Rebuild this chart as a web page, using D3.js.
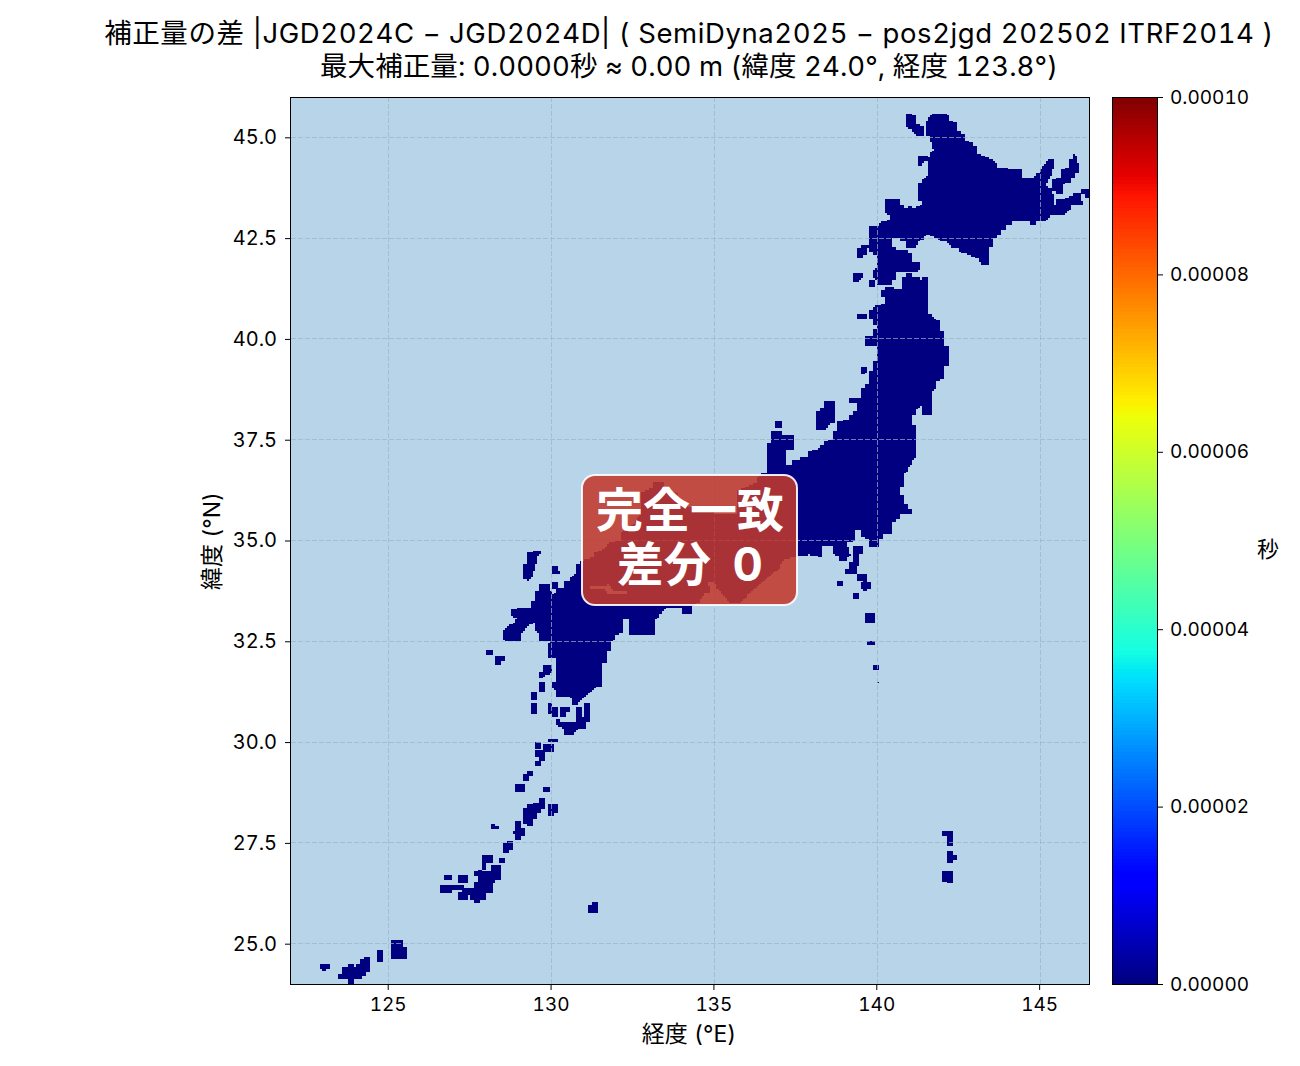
<!DOCTYPE html>
<html lang="ja">
<head>
<meta charset="utf-8">
<script src="https://cdnjs.cloudflare.com/ajax/libs/d3/7.9.0/d3.min.js"></script>
<style>
  html, body { margin: 0; padding: 0; background: #fff; }
  svg { display: block; }
  text { font-family: Inter, "Noto Sans CJK JP", "Noto Sans", sans-serif; font-feature-settings: "tnum"; fill: #000; }
</style>
</head>
<body>
<svg id="chart" width="1300" height="1066"></svg>
<script>
// Chart wording
const titleLines = [
  "補正量の差 |JGD2024C − JGD2024D| ( SemiDyna2025 − pos2jgd 202502 ITRF2014 )",
  "最大補正量: 0.0000秒 ≈ 0.00 m (緯度 24.0°, 経度 123.8°)"
];
const xLabel = "経度 (°E)";
const yLabel = "緯度 (°N)";
const colorLabel = "秒";
const badgeLines = ["完全一致", "差分 0"];

// Axis ranges and ticks
const lonExtent = [122, 146.5];
const latExtent = [24, 46];
const lonTicks = [125, 130, 135, 140, 145];
const latTicks = [25, 27.5, 30, 32.5, 35, 37.5, 40, 42.5, 45];
const diffExtent = [0, 0.0001];
const diffTicks = [0, 0.00002, 0.00004, 0.00006, 0.00008, 0.0001];

// The correction difference is zero at every land mesh cell
const landDifference = 0;
const meshLon = 1 / 16;
const meshLat = 1 / 24;

// Land outlines as [lon, lat] rings
const hokkaido = [[141.49,45.35],[141.61,45.51],[141.73,45.6],[142.04,45.6],[142.16,45.53],[142.16,45.43],[142.3,45.43],[142.3,45.36],[142.43,45.36],[142.43,45.18],[142.57,45.18],[142.57,45.1],[142.69,45.1],[142.69,44.93],[142.81,44.93],[142.81,44.87],[142.94,44.87],[142.94,44.79],[143.06,44.79],[143.06,44.6],[143.18,44.6],[143.18,44.54],[143.3,44.54],[143.3,44.48],[143.42,44.48],[143.42,44.44],[143.55,44.44],[143.67,44.36],[143.67,44.27],[143.97,44.25],[144.02,44.19],[144.44,44.19],[144.44,44.01],[144.8,44.01],[144.89,44.11],[144.99,44.15],[145.04,44.23],[145.25,44.44],[145.42,44.44],[145.42,44.23],[145.32,44.01],[145.19,43.86],[145.17,43.78],[145.3,43.76],[145.4,43.69],[145.42,43.36],[145.5,43.35],[145.52,43.45],[145.76,43.45],[145.76,43.51],[146.01,43.53],[146.01,43.61],[146.24,43.61],[146.3,43.32],[145.93,43.32],[145.93,43.24],[145.81,43.16],[145.69,43.07],[145.3,43.07],[145.3,42.99],[145.17,42.95],[145.17,42.91],[144.89,42.91],[144.85,42.85],[144.68,42.85],[144.66,42.91],[144.13,42.91],[144.13,42.85],[143.95,42.82],[143.95,42.72],[143.8,42.7],[143.8,42.58],[143.66,42.58],[143.66,42.49],[143.56,42.49],[143.56,42.31],[143.42,42.31],[143.42,41.82],[143.25,41.82],[143.13,41.92],[143.11,41.98],[142.94,42.04],[142.72,42.12],[142.48,42.16],[142.48,42.23],[142.23,42.23],[142.23,42.32],[142.1,42.4],[141.97,42.41],[141.73,42.55],[141.53,42.58],[141.41,42.47],[141.25,42.41],[141.18,42.23],[140.88,42.23],[140.88,42.41],[140.71,42.41],[140.71,42.49],[140.43,42.49],[140.41,42.29],[140.54,42.29],[140.54,42.19],[140.94,42.19],[140.94,42.11],[141.06,42.11],[141.06,41.93],[141.3,41.93],[141.3,41.74],[141.18,41.66],[140.54,41.66],[140.54,41.46],[140.42,41.44],[140.42,41.34],[139.99,41.34],[139.99,41.46],[139.87,41.5],[139.87,41.67],[140,41.75],[140,42.07],[139.87,42.08],[139.87,42.17],[139.75,42.17],[139.75,42.77],[140.06,42.8],[140.11,42.89],[140.23,42.91],[140.35,42.95],[140.35,43.07],[140.23,43.16],[140.23,43.45],[140.66,43.45],[140.66,43.35],[140.81,43.35],[140.81,43.26],[140.94,43.26],[140.94,43.31],[141.06,43.31],[141.06,43.26],[141.24,43.28],[141.37,43.35],[141.37,43.4],[141.24,43.4],[141.24,43.86],[141.37,43.86],[141.37,43.94],[141.49,44.01],[141.55,44.07],[141.55,44.36],[141.61,44.56],[141.73,44.69],[141.67,44.81],[141.61,45.02],[141.49,45.06]];
const honshuShikokuKyushu = [[140.11,41.19],[140.24,41.19],[140.24,41.3],[140.48,41.3],[140.48,41.25],[140.73,41.25],[140.73,41.53],[140.88,41.53],[140.88,41.61],[141.06,41.61],[141.06,41.56],[141.31,41.56],[141.31,41.44],[141.37,41.44],[141.37,41.54],[141.56,41.54],[141.56,40.62],[141.68,40.62],[141.68,40.55],[141.8,40.51],[141.8,40.45],[141.92,40.45],[141.92,40.2],[142.05,40.2],[142.05,39.85],[142.17,39.83],[142.17,39.33],[142.05,39.33],[142.05,38.99],[141.8,38.97],[141.8,38.74],[141.68,38.72],[141.68,38.14],[141.37,38.14],[141.37,38.33],[141.31,38.33],[141.19,38.24],[141.19,38.14],[141.06,38.14],[141.06,37.87],[141.19,37.87],[141.19,37.05],[141.07,37.0],[141.07,36.88],[140.95,36.84],[140.95,36.76],[140.82,36.63],[140.82,36.35],[140.68,36.35],[140.68,36.11],[140.82,36.11],[140.82,35.92],[140.95,35.92],[140.95,35.79],[141.07,35.79],[141.07,35.67],[140.7,35.67],[140.7,35.56],[140.58,35.56],[140.58,35.48],[140.42,35.44],[140.42,35.15],[140.17,35.15],[140.17,35.03],[140.05,35.03],[140.05,34.83],[139.74,34.83],[139.74,35.03],[139.49,35.09],[139.49,35.25],[139.32,35.25],[139.32,35.0],[139.06,34.94],[139.17,34.65],[139.04,34.51],[138.81,34.51],[138.81,34.61],[138.62,34.68],[138.62,34.88],[138.32,34.88],[138.32,34.61],[138.19,34.55],[138.19,34.63],[137.88,34.65],[137.73,34.61],[137.57,34.61],[137.11,34.52],[136.95,34.27],[136.65,34.1],[136.4,33.9],[136.09,33.7],[135.82,33.48],[135.48,33.45],[135.11,33.77],[135.02,33.95],[134.8,33.97],[134.9,33.72],[134.71,33.7],[134.59,33.52],[134.5,33.45],[134.31,33.38],[134.31,33.15],[134,33.15],[134,33.35],[133.54,33.35],[133.39,33.23],[133.27,33.08],[133.18,33.03],[133.18,32.66],[132.35,32.66],[132.35,33.03],[132.19,33.02],[132.19,32.73],[131.93,32.65],[131.93,32.55],[131.81,32.48],[131.81,32.24],[131.69,32.24],[131.69,31.99],[131.57,31.95],[131.57,31.39],[131.42,31.39],[131.3,31.31],[131.18,31.21],[131.05,31.16],[130.92,31.04],[130.8,31],[130.8,30.9],[130.61,30.9],[130.61,31.06],[130.49,31.14],[130.15,31.14],[130.12,31.29],[130.01,31.33],[130.01,31.49],[130.12,31.53],[130.12,32.07],[129.85,32.07],[129.85,32.44],[129.97,32.5],[129.6,32.5],[129.6,32.69],[129.48,32.81],[129.48,32.94],[129.3,32.9],[129.17,32.81],[129.17,32.77],[129.05,32.65],[129.05,32.48],[128.62,32.48],[128.5,32.55],[128.5,32.77],[128.69,32.9],[128.84,32.94],[128.93,33.06],[128.74,33.14],[128.74,33.27],[128.99,33.33],[129.36,33.35],[129.36,33.51],[129.48,33.51],[129.48,33.76],[129.6,33.76],[129.6,33.93],[129.94,33.93],[129.94,33.76],[130.03,33.76],[130.03,33.68],[130.25,33.84],[130.38,33.84],[130.38,34.01],[130.58,34.01],[130.6,34.11],[130.74,34.17],[130.74,34.42],[130.89,34.42],[130.89,34.5],[130.97,34.52],[131.33,34.59],[131.33,34.69],[131.64,34.81],[131.73,34.94],[132.1,35.01],[132.13,35.21],[132.5,35.38],[132.75,35.68],[132.75,36.18],[133.11,36.3],[133.11,36.45],[133.42,36.45],[133.42,36.25],[133.79,36.2],[134.19,35.83],[135.02,35.68],[135.66,35.68],[135.72,36.25],[135.97,36.33],[136.34,36.43],[136.34,36.58],[136.49,36.67],[136.62,36.67],[136.62,37.43],[136.74,37.43],[136.74,37.7],[137.05,37.7],[137.05,37.62],[137.43,37.62],[137.43,37.25],[137.17,37.25],[137.17,36.86],[137.35,36.86],[137.35,37.02],[137.61,37.02],[137.61,37.1],[137.88,37.1],[137.88,37.2],[138,37.2],[138,37.25],[138.24,37.28],[138.24,37.38],[138.36,37.38],[138.36,37.45],[138.49,37.45],[138.49,37.52],[138.61,37.52],[138.61,37.7],[138.73,37.7],[138.73,37.95],[138.92,37.95],[138.92,38],[138.98,38.02],[139.1,38.02],[139.1,38.12],[139.25,38.12],[139.25,38.19],[139.38,38.19],[139.38,38.42],[139.1,38.42],[139.1,38.54],[139.5,38.54],[139.5,38.79],[139.62,38.79],[139.62,38.86],[139.74,38.86],[139.74,39.21],[139.87,39.23],[139.87,39.46],[139.99,39.46],[139.99,39.83],[139.62,39.83],[139.62,40.1],[139.81,40.1],[139.87,40.06],[139.87,40.27],[139.99,40.27],[139.99,40.32],[139.87,40.32],[139.87,40.5],[139.74,40.5],[139.74,40.69],[139.87,40.69],[139.87,40.78],[139.93,40.82],[140.24,40.87],[140.24,41.06],[140.11,41.06]];
const smallIslandRings = [
  [[140.88,45.6],[141.06,45.6],[141.06,45.53],[141.18,45.53],[141.18,45.35],[141.43,45.28],[141.43,45.06],[141.18,45.04],[141.06,45.18],[140.88,45.24]],
  [[141.24,44.54],[141.55,44.54],[141.55,44.42],[141.43,44.4],[141.37,44.31],[141.24,44.31]],
  [[139.38,42.27],[139.5,42.27],[139.5,42.35],[139.75,42.35],[139.67,42.08],[139.54,42.07],[139.54,41.98],[139.38,41.98]],
  [[139.25,41.61],[139.56,41.61],[139.56,41.5],[139.5,41.5],[139.44,41.41],[139.25,41.41]],
  [[145.36,43.94],[145.52,43.94],[145.52,44.01],[145.64,44.01],[145.64,44.19],[145.76,44.19],[145.76,44.26],[145.89,44.26],[145.89,44.44],[146,44.44],[146,44.6],[146.06,44.6],[146.13,44.44],[146.19,44.27],[146.32,44.26],[146.32,44.24],[146.19,44.23],[146.19,44.15],[146.06,44.13],[146.06,43.98],[145.94,43.98],[145.94,43.9],[145.81,43.88],[145.71,43.82],[145.71,43.57],[145.5,43.57],[145.5,43.65],[145.36,43.68]],
  [[146.24,43.69],[146.5,43.69],[146.5,43.5],[146.37,43.5],[146.37,43.59],[146.24,43.59]],
  [[138.12,38.19],[138.24,38.19],[138.24,38.29],[138.36,38.29],[138.36,38.44],[138.67,38.44],[138.67,37.9],[138.54,37.9],[138.49,37.81],[138.43,37.81],[138.43,37.75],[138.12,37.75]],
  [[139.5,39.28],[139.68,39.28],[139.68,39.18],[139.62,39.18],[139.62,39.11],[139.5,39.11]],
  [[139.27,34.65],[139.43,34.65],[139.39,34.16],[138.98,34.16],[138.98,34.28],[139.11,34.28],[139.11,34.45],[139.27,34.45]],
  [[129.25,34.71],[129.66,34.75],[129.66,34.65],[129.54,34.63],[129.54,34.46],[129.51,34.26],[129.41,34.22],[129.41,34.09],[129.3,34.01],[129.17,34.03],[129.11,34.09],[129.11,34.42],[129.25,34.42]],
  [[130.01,34.36],[130.18,34.36],[130.18,34.24],[130.25,34.24],[130.25,34.18],[130.18,34.15],[130.01,34.15]],
  [[129.72,31.93],[130.02,31.93],[130.02,31.74],[129.79,31.62],[129.6,31.57],[129.6,31.74],[129.72,31.77]],
  [[130.12,30.57],[130.25,30.57],[130.25,30.52],[130.69,30.52],[130.74,30.48],[131.04,30.48],[131.04,30.32],[130.8,30.32],[130.69,30.23],[130.69,30.16],[130.37,30.16],[130.37,30.32],[130.18,30.4],[130.12,30.4]],
  [[129.6,28.62],[129.79,28.62],[129.79,28.32],[129.66,28.32],[129.66,28.25],[129.54,28.25],[129.54,28.08],[129.42,28.08],[129.42,27.9],[129.23,27.9],[129.23,27.95],[129.11,27.95],[129.11,28.37],[129.23,28.37],[129.23,28.45],[129.42,28.45],[129.42,28.5],[129.6,28.52]],
  [[128.86,28.03],[129.05,28.03],[129.05,27.88],[129.17,27.88],[129.17,27.66],[129.05,27.66],[129.05,27.58],[128.86,27.58],[128.86,27.71],[128.8,27.71],[128.8,27.78],[128.86,27.78]],
  [[128.1,26.97],[128.43,26.97],[128.43,26.57],[128.28,26.57],[128.28,26.5],[128.16,26.5],[128.16,26.25],[128.03,26.25],[128.03,26.08],[127.79,26.08],[127.79,26],[127.61,26],[127.61,26.08],[127.48,26.08],[127.48,26.19],[127.24,26.19],[127.24,26.37],[127.61,26.37],[127.61,26.55],[127.73,26.55],[127.73,26.67],[127.61,26.67],[127.61,26.79],[127.73,26.79],[127.73,26.84],[127.85,26.84],[127.85,26.79],[128.1,26.79]],
  [[123.59,24.43],[123.74,24.43],[123.74,24.51],[123.93,24.51],[123.93,24.43],[123.99,24.43],[123.99,24.51],[124.11,24.51],[124.11,24.61],[124.23,24.61],[124.23,24.68],[124.42,24.68],[124.42,24.31],[124.29,24.31],[124.29,24.21],[124.17,24.21],[124.17,24.14],[123.93,24.14],[123.93,24],[123.74,24],[123.74,24.14],[123.46,24.14],[123.46,24.26],[123.59,24.26]]
];
// Islets as [west, east, south, north]
const isletBoxes = [
  [136.86,137.05,37.79,37.95],[139.74,139.93,41.31,41.44],[139.38,139.68,40.5,40.62],[139.27,139.57,34.65,34.88],
  [139.38,139.68,33.99,34.18],[139.56,139.68,33.76,33.99],[139.5,139.81,33.81,33.94],[138.73,138.92,33.89,34.01],
  [139.25,139.44,33.56,33.69],[139.62,139.93,32.97,33.22],[139.68,139.93,32.4,32.52],[139.87,140.05,31.81,31.93],
  [139.98,140.06,31.47,31.5],[141.99,142.29,27.66,27.78],[142.11,142.29,27.4,27.66],[142.11,142.29,26.98,27.28],
  [142.29,142.45,27.08,27.2],[141.99,142.29,26.56,26.78],[142.11,142.29,26.49,26.56],
  [130.01,130.18,33.8,33.94],[127.97,128.16,32.15,32.28],[128.23,128.56,32.01,32.11],[128.23,128.43,31.91,32.01],
  [129.6,129.79,31.39,31.51],[129.6,129.79,31.24,31.36],[129.36,129.54,31.06,31.26],[129.36,129.54,30.72,30.94],
  [129.85,130.03,30.72,30.94],[130.01,130.18,30.64,30.86],[130.25,130.43,30.64,30.86],[130.36,130.55,30.74,30.89],
  [130.74,130.92,30.64,30.86],[130.98,131.17,30.48,30.94],[130.74,131.17,30.48,30.64],
  [129.85,130.18,30,30.1],[129.72,130.06,29.73,29.95],[129.48,129.66,29.83,29.98],[129.48,129.79,29.61,29.78],
  [129.6,129.79,29.53,29.61],[129.48,129.66,29.41,29.53],[129.23,129.42,29.16,29.28],[129.11,129.29,29.06,29.19],
  [128.86,129.17,28.74,28.94],[129.72,129.94,28.74,28.87],[129.85,130.18,28.25,28.45],[129.85,130.06,28.15,28.25],
  [128.1,128.28,27.83,27.95],[128.28,128.37,27.83,27.9],[128.62,128.8,27.48,27.53],[128.5,128.8,27.34,27.48],
  [128.5,128.68,27.24,27.34],[127.85,128.16,26.99,27.21],[127.85,128.03,26.84,26.99],[128.37,128.56,26.99,27.11],
  [126.71,126.93,26.57,26.72],[127.11,127.42,26.5,26.72],[126.59,126.93,26.25,26.45],[126.93,127.3,26.33,26.45],
  [127.11,127.42,26.08,26.3],[131.1,131.41,25.76,25.96],[131.23,131.41,25.96,26.05],
  [122.85,123.16,24.38,24.51],[122.92,123.04,24.33,24.38],[124.6,124.79,24.56,24.85],
  [125.09,125.43,24.93,25.1],[125.09,125.55,24.63,24.93]
];
// Inland sea channel that cuts through the land outline
const seaChannel = [[131.18,33.87],[131.74,33.9],[131.89,33.75],[132.29,33.75],[132.29,33.65],[131.75,33.65],[131.6,33.8],[131.18,33.77]];

// Colours
const oceanColor = "#b8d4e8";
const gridColor = "#9ab3c8";
const badgeFill = "#c0392b";

// Layout
const plot = { left: 291, right: 1089, top: 97, bottom: 984 };
const bar = { left: 1112, right: 1157 };

const svg = d3.select("#chart");
const x = d3.scaleLinear().domain(lonExtent).range([plot.left, plot.right]);
const y = d3.scaleLinear().domain(latExtent).range([plot.bottom, plot.top]);
const yBar = d3.scaleLinear().domain(diffExtent).range([plot.bottom, plot.top]);

// Jet colour ramp, one piecewise channel each
const jetR = d3.scaleLinear().domain([0, 0.35, 0.66, 0.89, 1]).range([0, 0, 1, 1, 0.5]);
const jetG = d3.scaleLinear().domain([0, 0.125, 0.375, 0.64, 0.91, 1]).range([0, 0, 1, 1, 0, 0]);
const jetB = d3.scaleLinear().domain([0, 0.11, 0.34, 0.65, 1]).range([0.5, 1, 1, 0, 0]);
const jet = t => d3.rgb(jetR(t) * 255, jetG(t) * 255, jetB(t) * 255).formatHex();
const color = v => jet((v - diffExtent[0]) / (diffExtent[1] - diffExtent[0]));

// Turn the land outlines into mesh cells, merged into runs along each row
const boxRing = ([w, e, s, n]) => [[w, n], [e, n], [e, s], [w, s]];
const landRings = [hokkaido, honshuShikokuKyushu, ...smallIslandRings, ...isletBoxes.map(boxRing)]
  .map(ring => ({
    ring,
    lon: d3.extent(ring, d => d[0]),
    lat: d3.extent(ring, d => d[1])
  }));
function isLand(lon, lat) {
  if (d3.polygonContains(seaChannel, [lon, lat])) return false;
  return landRings.some(r =>
    lon >= r.lon[0] && lon <= r.lon[1] && lat >= r.lat[0] && lat <= r.lat[1] &&
    d3.polygonContains(r.ring, [lon, lat]));
}
const nRows = Math.round((latExtent[1] - latExtent[0]) / meshLat);
const nCols = Math.round((lonExtent[1] - lonExtent[0]) / meshLon);
const landRuns = [];
for (let j = 0; j < nRows; j++) {
  const lat = latExtent[0] + (j + 0.5) * meshLat;
  let start = null;
  for (let i = 0; i <= nCols; i++) {
    const land = i < nCols && isLand(lonExtent[0] + (i + 0.5) * meshLon, lat);
    if (land && start === null) start = i;
    if (!land && start !== null) {
      landRuns.push({
        west: lonExtent[0] + start * meshLon,
        east: lonExtent[0] + i * meshLon,
        south: latExtent[0] + j * meshLat,
        north: latExtent[0] + (j + 1) * meshLat,
        value: landDifference
      });
      start = null;
    }
  }
}

// Sea background
svg.append("rect")
  .attr("x", plot.left).attr("y", plot.top)
  .attr("width", plot.right - plot.left).attr("height", plot.bottom - plot.top)
  .attr("fill", oceanColor);

// Mesh cells
svg.append("g").selectAll("rect").data(landRuns).join("rect")
  .attr("x", d => Math.round(x(d.west)))
  .attr("width", d => Math.round(x(d.east)) - Math.round(x(d.west)))
  .attr("y", d => Math.round(y(d.north)))
  .attr("height", d => Math.round(y(d.south)) - Math.round(y(d.north)))
  .attr("fill", d => color(d.value));

// Dashed grid above the cells
const grid = svg.append("g")
  .attr("fill", "none").attr("stroke", gridColor).attr("stroke-opacity", 0.7)
  .attr("stroke-width", 1).attr("stroke-dasharray", "5 2");
grid.selectAll(".v").data(lonTicks).join("line").attr("class", "v")
  .attr("x1", d => Math.floor(x(d)) + 0.5).attr("x2", d => Math.floor(x(d)) + 0.5)
  .attr("y1", plot.top).attr("y2", plot.bottom);
grid.selectAll(".h").data(latTicks).join("line").attr("class", "h")
  .attr("y1", d => Math.floor(y(d)) + 0.5).attr("y2", d => Math.floor(y(d)) + 0.5)
  .attr("x1", plot.left).attr("x2", plot.right);

// Rounded badge over the map
svg.append("rect")
  .attr("x", 582).attr("y", 475).attr("width", 215).attr("height", 130)
  .attr("rx", 13).attr("ry", 13)
  .attr("fill", badgeFill).attr("fill-opacity", 0.88)
  .attr("stroke", "#fff").attr("stroke-width", 2).attr("stroke-opacity", 0.9);
const badgeText = svg.append("text").attr("text-anchor", "middle")
  .attr("font-size", 47).attr("font-weight", 700).style("fill", "#fff").style("word-spacing", "9px");
badgeText.selectAll("tspan").data(badgeLines).join("tspan")
  .attr("x", 690)
  .attr("y", (d, i) => 527 + i * 54)
  .text(d => d);

// Axes
const tickFont = size => g => g.selectAll("text").attr("font-size", size);
const axisStyle = g => {
  g.select(".domain").remove();
  g.selectAll("line").attr("stroke", "#000").attr("stroke-width", 1);
  g.attr("font-family", null);
};
svg.append("g").attr("transform", `translate(-1,${plot.bottom})`)
  .call(d3.axisBottom(x).tickValues(lonTicks).tickFormat(d3.format("d")).tickSize(6).tickPadding(8))
  .call(axisStyle).call(tickFont(19));
svg.append("g").attr("transform", `translate(${plot.left},0)`)
  .call(d3.axisLeft(y).tickValues(latTicks).tickFormat(d3.format(".1f")).tickSize(6).tickPadding(8))
  .call(axisStyle).call(tickFont(20));

// Frame
svg.append("rect")
  .attr("x", plot.left - 0.5).attr("y", plot.top + 0.5)
  .attr("width", plot.right - plot.left + 1).attr("height", plot.bottom - plot.top)
  .attr("fill", "none").attr("stroke", "#000").attr("stroke-width", 1);

// Colour bar
const barSteps = d3.range(256).map(i => i / 256);
const barTop = d => Math.round(yBar(diffExtent[0] + (d + 1 / 256) * (diffExtent[1] - diffExtent[0])));
const barBottom = d => Math.round(yBar(diffExtent[0] + d * (diffExtent[1] - diffExtent[0])));
svg.append("g").selectAll("rect").data(barSteps).join("rect")
  .attr("x", bar.left).attr("width", bar.right - bar.left)
  .attr("y", barTop)
  .attr("height", d => barBottom(d) - barTop(d))
  .attr("fill", d => jet(d + 0.5 / 256));
svg.append("rect")
  .attr("x", bar.left + 0.5).attr("y", plot.top + 0.5)
  .attr("width", bar.right - bar.left).attr("height", plot.bottom - plot.top)
  .attr("fill", "none").attr("stroke", "#000").attr("stroke-width", 1);
svg.append("g").attr("transform", `translate(${bar.right},0)`)
  .call(d3.axisRight(yBar).tickValues(diffTicks).tickFormat(d3.format(".5f")).tickSize(6).tickPadding(7))
  .call(axisStyle).call(tickFont(19));

// Titles and axis labels
svg.append("g").attr("text-anchor", "middle").selectAll("text").data(titleLines).join("text")
  .attr("x", 689)
  .attr("y", (d, i) => 43 + i * 33)
  .attr("font-size", 27.5)
  .style("letter-spacing", (d, i) => i === 0 ? "0.6px" : "0.08px")
  .text(d => d);
svg.append("text").attr("x", 689).attr("y", 1042).attr("text-anchor", "middle")
  .attr("font-size", 23).text(xLabel);
svg.append("text").attr("text-anchor", "middle")
  .attr("transform", "translate(220,541) rotate(-90)")
  .attr("font-size", 23).text(yLabel);
svg.append("text").attr("text-anchor", "middle")
  .attr("x", 1268).attr("y", 557)
  .attr("font-size", 22).text(colorLabel);
</script>
</body>
</html>
